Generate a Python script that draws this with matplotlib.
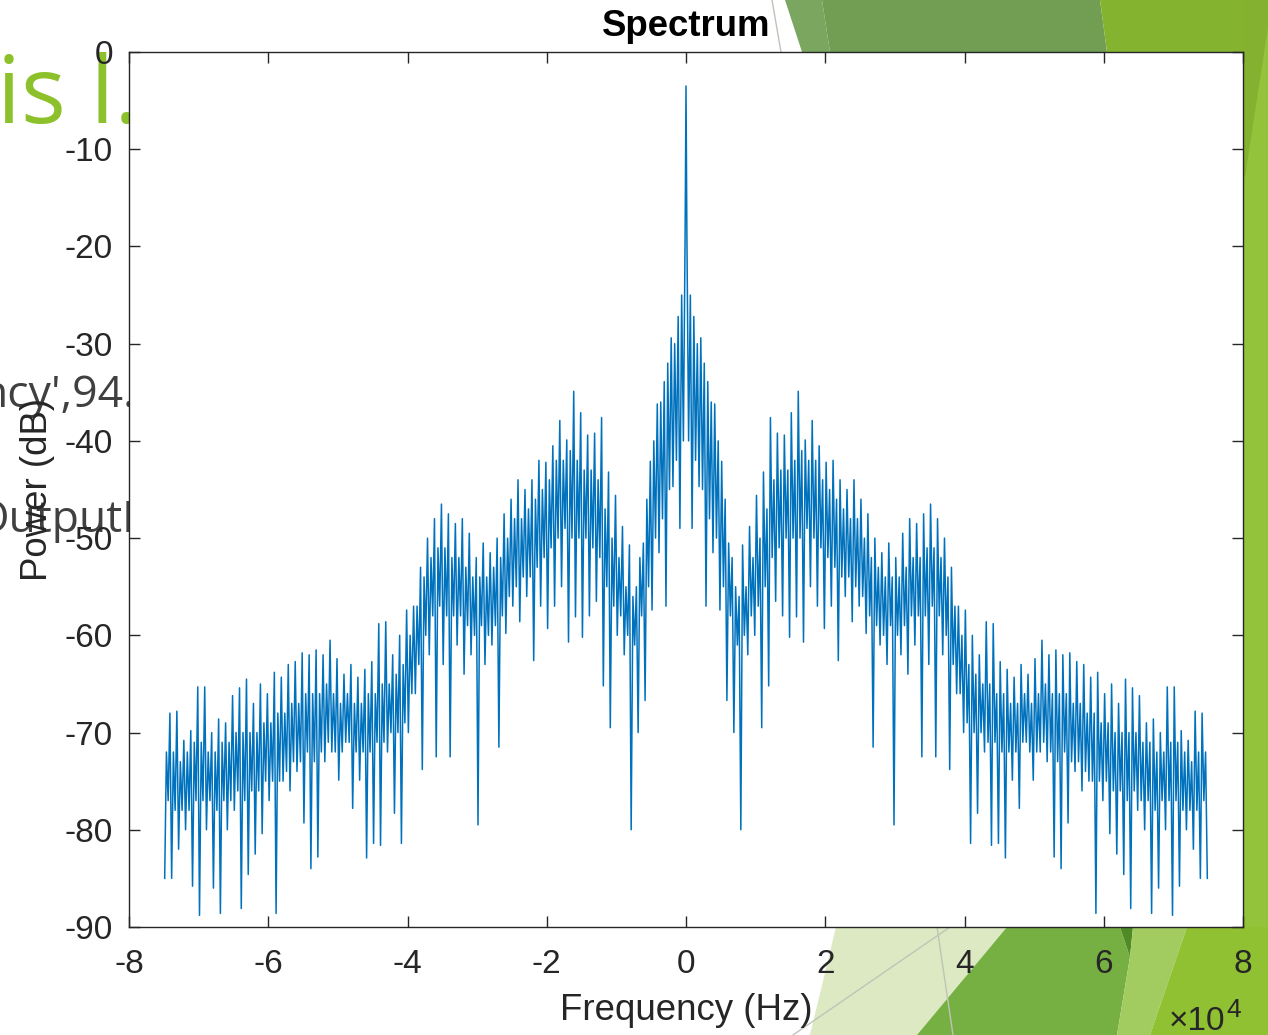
import matplotlib.pyplot as plt
import numpy as np
from matplotlib.patches import Polygon

# one-sided spectrum, 1 kHz bins starting at 0 Hz
# (the plotted two-sided spectrum of a real signal is mirror symmetric)
dc_power_db = -3.5
bin_start_khz = list(range(75))
# highest spike in each bin
peak_db = [
    -18.5, -27.2, -29.4, -33.9, -36.2, -42.1, -50.5, -55.0, -50.7, -48.8,
    -45.6, -43.2, -37.6, -39.2, -39.4, -37.1, -34.9, -39.9, -37.9, -40.5,
    -42.2, -42.0, -44.0, -45.0, -44.0, -46.0, -47.5, -50.0, -51.5, -50.5,
    -52.0, -49.5, -48.0, -48.5, -47.5, -46.5, -48.0, -50.0, -53.0, -57.0,
    -57.4, -60.0, -62.0, -58.6, -58.8, -62.7, -63.5, -64.3, -63.0, -64.0,
    -62.4, -60.5, -62.0, -61.5, -62.0, -61.8, -62.7, -63.0, -64.3, -63.8,
    -66.0, -65.0, -67.0, -64.5, -65.4, -66.2, -69.0, -68.6, -70.0, -65.3,
    -65.3, -69.8, -70.8, -67.8, -68.0,
]
# top and bottom of the dense band in each bin
band_top_db = [
    -25, -30, -32, -36, -40, -46, -52, -56, -55, -52,
    -50, -47, -44, -43, -43, -42, -41, -42, -42, -44,
    -45, -46, -47, -48, -48, -50, -52, -53, -54, -54,
    -54, -53, -52, -52, -51, -51, -52, -54, -57, -60,
    -63, -64, -65, -65, -66, -66, -67, -67, -66, -67,
    -66, -65, -66, -66, -66, -67, -67, -68, -68, -69,
    -69, -70, -70, -70, -70, -71, -71, -72, -72, -71,
    -71, -72, -73, -72, -72,
]
band_bottom_db = [
    -40, -42, -45, -48, -50, -55, -58, -61, -60, -58,
    -57, -55, -52, -51, -50, -50, -50, -49, -50, -51,
    -52, -53, -54, -54, -55, -56, -58, -59, -60, -59,
    -60, -59, -58, -58, -58, -57, -58, -60, -63, -66,
    -69, -70, -70, -71, -71, -72, -72, -72, -71, -72,
    -72, -71, -72, -73, -72, -73, -73, -74, -75, -75,
    -75, -76, -76, -77, -76, -77, -77, -78, -77, -77,
    -77, -78, -78, -78, -77,
]
# deepest notch in each bin
trough_db = [
    -49.0, -44.7, -57.0, -51.5, -57.4, -66.7, -70.0, -80.0, -62.0, -60.0,
    -69.5, -65.2, -56.5, -58.0, -60.2, -58.1, -60.7, -55.0, -57.0, -59.3,
    -57.0, -62.6, -56.0, -58.6, -57.0, -59.8, -71.5, -61.0, -63.0, -79.5,
    -62.0, -64.0, -61.0, -72.5, -63.0, -72.5, -62.0, -73.8, -66.0, -70.0,
    -81.4, -78.3, -72.0, -81.6, -81.4, -82.9, -74.9, -77.8, -71.0, -74.9,
    -72.0, -73.0, -82.8, -84.0, -79.3, -74.0, -76.0, -75.0, -88.6, -77.0,
    -80.4, -82.5, -84.6, -88.1, -78.0, -80.0, -88.6, -86.0, -80.0, -88.8,
    -85.8, -80.0, -82.0, -85.0, -85.0,
]

x_ticks = [-8e4, -6e4, -4e4, -2e4, 0, 2e4, 4e4, 6e4, 8e4]
x_tick_labels = ["-8", "-6", "-4", "-2", "0", "2", "4", "6", "8"]
y_ticks = list(range(-90, 1, 10))

pos_f, pos_p = [], []
for k, hi, bt, bb, lo in zip(bin_start_khz, peak_db, band_top_db,
                             band_bottom_db, trough_db):
    pos_f += [k + 0.125, k + 0.375, k + 0.625, k + 0.875]
    pos_p += [hi, bb, bt, lo]
pos_f = np.array(pos_f) * 1e3
pos_p = np.array(pos_p, dtype=float)
freq_hz = np.concatenate([-pos_f[::-1], [0.0], pos_f])
power_db = np.concatenate([pos_p[::-1], [dc_power_db], pos_p])

W, H = 1268, 1035
plt.rcParams.update({
    "font.family": ["Liberation Sans", "DejaVu Sans"],
    "axes.unicode_minus": False,
})
fig = plt.figure(figsize=(W / 100, H / 100), dpi=100, facecolor="white")


def px(pts):
    return [(x / W, 1 - y / H) for x, y in pts]


def shape(pts, color):
    fig.patches.append(Polygon(px(pts), closed=True, transform=fig.transFigure,
                               facecolor=color, edgecolor="none", zorder=-2))


# slide background showing around the figure
shape([(785, 0), (822, 0), (830, 52), (802, 52)], "#7aa660")
shape([(822, 0), (1100, 0), (1107, 52), (830, 52)], "#719e52")
shape([(1100, 0), (1268, 0), (1268, 52), (1107, 52)], "#84b330")
shape([(1243, 0), (1268, 0), (1268, 1035), (1243, 1035)], "#93c23b")
shape([(1243, 0), (1268, 0), (1268, 27), (1245, 177), (1243, 177)], "#84b230")
shape([(810, 1035), (836, 927), (1007, 927), (917, 1035)], "#dde9c2")
shape([(917, 1035), (1007, 927), (1120, 927), (1130, 957), (1117, 1035)], "#76b042")
shape([(1120, 927), (1133, 927), (1130, 957)], "#4f8a25")
shape([(1117, 1035), (1130, 957), (1133, 927), (1187, 927), (1150, 1035)], "#a2cb60")
shape([(1150, 1035), (1187, 927), (1268, 927), (1268, 1035)], "#90c133")
for (x0, y0), (x1, y1) in [((772, 0), (781, 52)), ((793, 1035), (950, 927)),
                           ((937, 927), (953, 1035))]:
    (a0, b0), (a1, b1) = px([(x0, y0), (x1, y1)])
    fig.add_artist(plt.Line2D([a0, a1], [b0, b1], transform=fig.transFigure,
                              color="#bfc4b8", linewidth=1.0, zorder=-1.5))

fig.text(-3 / W, 1 - 123 / H, "is l.", fontsize=68, color="#8dc12c",
         family="Open Sans", va="baseline", ha="left", zorder=-1)
fig.text(135 / W, 1 - 407 / H, "ncy',94.", fontsize=32, color="#404040",
         family="Open Sans", va="baseline", ha="right", zorder=-1)
fig.text(122 / W, 1 - 532 / H, "Output", fontsize=32, color="#404040",
         family="Open Sans", va="baseline", ha="right", zorder=-1)
fig.text(122 / W, 1 - 532 / H, "P", fontsize=32, color="#404040",
         family="Open Sans", va="baseline", ha="left", zorder=-1)

ax = fig.add_axes([129 / W, 1 - 927 / H, 1114 / W, 875 / H])
ax.plot(freq_hz, power_db, color="#0072BD", linewidth=1.1)

ax.set_xlim(-8e4, 8e4)
ax.set_ylim(-90, 0)
ax.set_xticks(x_ticks, x_tick_labels)
ax.set_yticks(y_ticks)
for side in ax.spines.values():
    side.set_color("#262626")
    side.set_linewidth(1.0)
ax.tick_params(direction="in", length=8, width=1.0, color="#262626",
               labelcolor="#262626", labelsize=24, top=True, right=True)
ax.tick_params(axis="x", pad=15.5)
ax.tick_params(axis="y", pad=11.5)

ax.set_title("Spectrum", fontsize=26.4, fontweight="bold", pad=11.5)
ax.set_xlabel("Frequency (Hz)", fontsize=26.4, color="#262626")
ax.set_ylabel("Power (dB)", fontsize=26.4, color="#262626")
ax.xaxis.set_label_coords(0.5, (927 - 993) / 875)
ax.yaxis.set_label_coords((55 - 129) / 1114, 0.5)

fig.text(1225 / W, 1 - 1030 / H, "\u00d710", fontsize=24, color="#262626",
         ha="right", va="baseline")
fig.text(1226 / W, 1 - 1017 / H, "4", fontsize=19, color="#262626",
         ha="left", va="baseline")

fig.savefig("out.png", dpi=100, facecolor="white")
